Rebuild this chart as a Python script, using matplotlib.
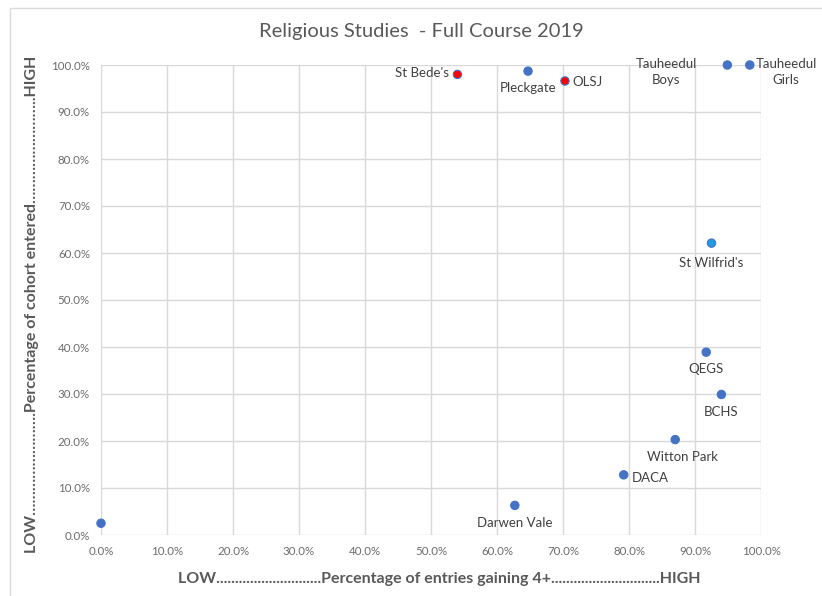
import matplotlib.pyplot as plt
from matplotlib.patches import Rectangle

# school results (x = % entries gaining 4+, y = % of cohort entered)
schools = ['', 'Darwen Vale', 'DACA', 'Witton Park', 'BCHS', 'QEGS', "St Wilfrid's",
           "St Bede's", 'Pleckgate', 'OLSJ', 'Tauheedul\nBoys', 'Tauheedul\nGirls']
gaining = [0.0, 62.7, 79.2, 87.0, 94.0, 91.7, 92.5, 54.0, 64.7, 70.3, 94.9, 98.3]
entered = [2.5, 6.3, 12.8, 20.3, 29.9, 38.9, 62.1, 98.0, 98.7, 96.6, 100.0, 100.0]

face = ['#4472c4'] * 6 + ['#1f9be6', '#ff0000', '#4472c4', '#ff0000', '#4472c4', '#4472c4']

# label offsets in points (dx, dy, ha, va)
offs = [None, (0, -8, 'center', 'top'), (6, -2, 'left', 'center'), (5, -8, 'center', 'top'),
        (0, -8, 'center', 'top'), (0, -8, 'center', 'top'), (0, -10, 'center', 'top'),
        (-6, 1, 'right', 'center'), (0, -8, 'center', 'top'), (5, -1, 'left', 'center'),
        (-22, -5, 'right', 'center'), (4, -5, 'left', 'center')]

plt.rcParams['font.family'] = ['Lato', 'DejaVu Sans']

fig = plt.figure(figsize=(8.22, 5.96), dpi=100)
fig.patches.append(Rectangle((10/822, -0.01), 1.0, 1 - 8/596 + 0.01, transform=fig.transFigure,
                             fill=False, edgecolor='#d9d9d9', linewidth=1))
ax = fig.add_axes([101/822, 1 - 535/596, 660/822, 470/596])

ax.scatter(gaining, entered, s=36, c=face, edgecolors='#4472c4', linewidths=0.8, zorder=3,
           clip_on=False)
for name, x, y, o in zip(schools, gaining, entered, offs):
    if o is None:
        continue
    ax.annotate(name, (x, y), xytext=(o[0], o[1]), textcoords='offset points', ha=o[2], va=o[3],
                multialignment='center', fontsize=9.5, color='#404040', linespacing=1.45,
                annotation_clip=False)

ax.set_xlim(0, 100)
ax.set_ylim(0, 100)
ax.set_xticks(range(0, 101, 10))
ax.set_yticks(range(0, 101, 10))
ax.set_xticklabels(['%.1f%%' % v for v in range(0, 101, 10)])
ax.set_yticklabels(['%.1f%%' % v for v in range(0, 101, 10)])
ax.tick_params(length=0, labelsize=8.3, labelcolor='#6b6b6b', pad=8)
ax.grid(color='#d9d9d9', linewidth=1)
ax.set_axisbelow(True)
for s in ax.spines.values():
    s.set_visible(False)

ax.set_xlabel('LOW............................Percentage of entries gaining 4+.............................HIGH',
              fontsize=11.5, fontweight='bold', color='#595959', labelpad=11)
ax.xaxis.label.set_x(0.513)
ax.set_ylabel('LOW…………………….Percentage of cohort entered……………………..HIGH',
              fontsize=11.5, fontweight='bold', color='#595959', labelpad=9)
ax.yaxis.label.set_y(0.49)
fig.text(421/822, 1 - 32/596, 'Religious Studies  - Full Course 2019', ha='center', va='center',
         fontsize=14.5, color='#595959')

fig.savefig('out.png', dpi=100)
